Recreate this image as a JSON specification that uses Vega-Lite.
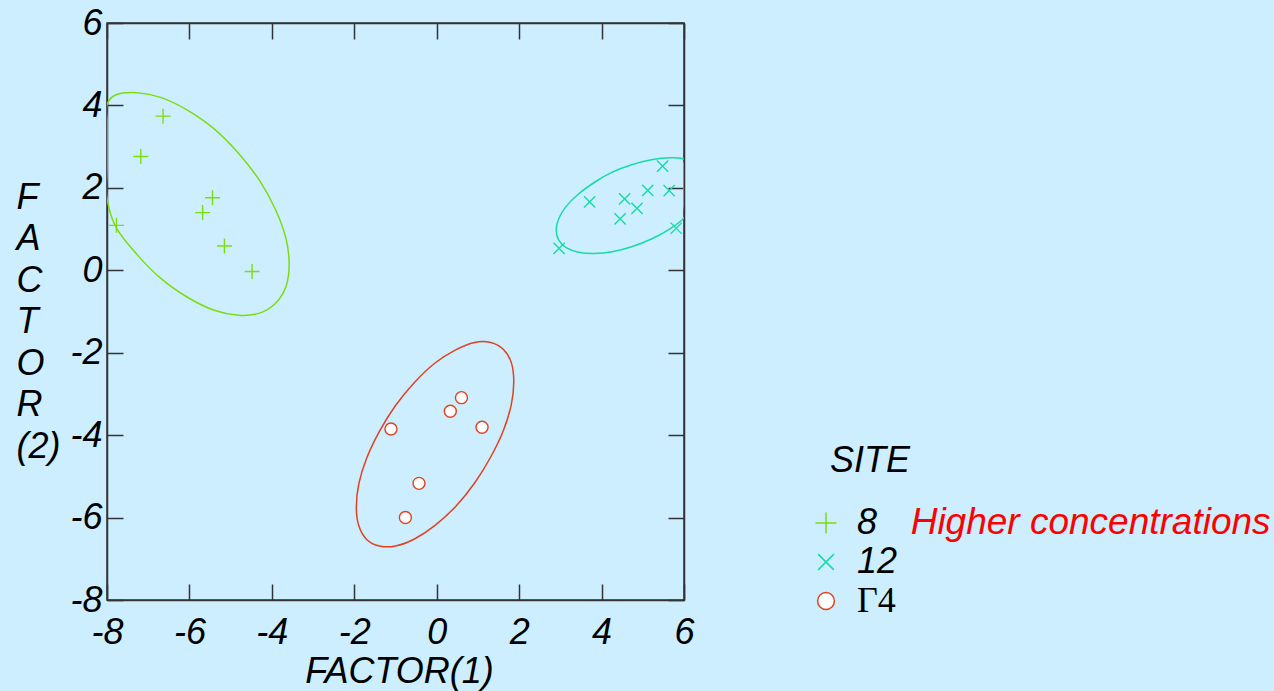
{
  "$schema": "https://vega.github.io/schema/vega-lite/v6.json",
  "width": 577,
  "height": 577,
  "autosize": {"type": "none"},
  "padding": {"left": 107, "top": 23, "right": 590, "bottom": 91},
  "background": "#cceeff",
  "config": {
    "view": {"stroke": "#333333", "strokeWidth": 1.5},
    "font": "Liberation Sans",
    "axis": {
      "labelFont": "Liberation Sans", "labelFontStyle": "italic", "labelFontSize": 36, "labelColor": "black",
      "titleFont": "Liberation Sans", "titleFontStyle": "italic", "titleFontSize": 36, "titleFontWeight": "normal", "titleColor": "black",
      "grid": false, "tickSize": -16, "tickColor": "#333333", "domainColor": "#333333", "tickWidth": 1.5, "domainWidth": 1.5,
      "labelExpr": "'' + datum.value", "labelFlush": false, "labelOverlap": false
    }
  },
  "datasets": {
    "pts": [
      {"site": "8", "x": -6.64, "y": 3.74}, {"site": "8", "x": -7.18, "y": 2.76}, {"site": "8", "x": -5.44, "y": 1.76},
      {"site": "8", "x": -5.68, "y": 1.40}, {"site": "8", "x": -7.77, "y": 1.09}, {"site": "8", "x": -5.15, "y": 0.59},
      {"site": "8", "x": -4.48, "y": -0.03},
      {"site": "12", "x": 5.48, "y": 2.53}, {"site": "12", "x": 5.12, "y": 1.94}, {"site": "12", "x": 5.64, "y": 1.93},
      {"site": "12", "x": 3.71, "y": 1.66}, {"site": "12", "x": 4.56, "y": 1.73}, {"site": "12", "x": 4.86, "y": 1.50},
      {"site": "12", "x": 4.45, "y": 1.25}, {"site": "12", "x": 5.81, "y": 1.02}, {"site": "12", "x": 2.97, "y": 0.53},
      {"site": "Γ4", "x": 0.60, "y": -3.09}, {"site": "Γ4", "x": 0.33, "y": -3.42}, {"site": "Γ4", "x": -1.11, "y": -3.85},
      {"site": "Γ4", "x": 1.10, "y": -3.81}, {"site": "Γ4", "x": -0.43, "y": -5.17}, {"site": "Γ4", "x": -0.76, "y": -6.00}
    ],
    "ell": [
      {"site": "8", "i": 0, "x": -3.58, "y": 0.14}, {"site": "8", "i": 1, "x": -3.66, "y": 0.78},
      {"site": "8", "i": 2, "x": -3.91, "y": 1.47}, {"site": "8", "i": 3, "x": -4.30, "y": 2.18},
      {"site": "8", "i": 4, "x": -4.81, "y": 2.84}, {"site": "8", "i": 5, "x": -5.40, "y": 3.43},
      {"site": "8", "i": 6, "x": -6.04, "y": 3.88}, {"site": "8", "i": 7, "x": -6.68, "y": 4.19},
      {"site": "8", "i": 8, "x": -7.27, "y": 4.31}, {"site": "8", "i": 9, "x": -7.78, "y": 4.26},
      {"site": "8", "i": 10, "x": -8, "y": 4.02}, {"site": "8", "i": 11, "x": -8, "y": 3.62},
      {"site": "8", "i": 12, "x": -8, "y": 3.08}, {"site": "8", "i": 13, "x": -8, "y": 2.44},
      {"site": "8", "i": 14, "x": -8, "y": 1.75}, {"site": "8", "i": 15, "x": -7.78, "y": 1.04},
      {"site": "8", "i": 16, "x": -7.27, "y": 0.38}, {"site": "8", "i": 17, "x": -6.68, "y": -0.21},
      {"site": "8", "i": 18, "x": -6.04, "y": -0.66}, {"site": "8", "i": 19, "x": -5.40, "y": -0.97},
      {"site": "8", "i": 20, "x": -4.81, "y": -1.09}, {"site": "8", "i": 21, "x": -4.30, "y": -1.04},
      {"site": "8", "i": 22, "x": -3.91, "y": -0.80}, {"site": "8", "i": 23, "x": -3.66, "y": -0.40},
      {"site": "12", "i": 0, "x": 6, "y": 2.16}, {"site": "12", "i": 1, "x": 6, "y": 2.40},
      {"site": "12", "i": 2, "x": 6, "y": 2.58}, {"site": "12", "i": 3, "x": 6, "y": 2.70},
      {"site": "12", "i": 4, "x": 5.65, "y": 2.73}, {"site": "12", "i": 5, "x": 5.21, "y": 2.68},
      {"site": "12", "i": 6, "x": 4.73, "y": 2.56}, {"site": "12", "i": 7, "x": 4.26, "y": 2.38},
      {"site": "12", "i": 8, "x": 3.82, "y": 2.13}, {"site": "12", "i": 9, "x": 3.44, "y": 1.85},
      {"site": "12", "i": 10, "x": 3.14, "y": 1.55}, {"site": "12", "i": 11, "x": 2.96, "y": 1.25},
      {"site": "12", "i": 12, "x": 2.90, "y": 0.97}, {"site": "12", "i": 13, "x": 2.96, "y": 0.73},
      {"site": "12", "i": 14, "x": 3.14, "y": 0.55}, {"site": "12", "i": 15, "x": 3.44, "y": 0.44},
      {"site": "12", "i": 16, "x": 3.82, "y": 0.41}, {"site": "12", "i": 17, "x": 4.26, "y": 0.45},
      {"site": "12", "i": 18, "x": 4.73, "y": 0.57}, {"site": "12", "i": 19, "x": 5.21, "y": 0.76},
      {"site": "12", "i": 20, "x": 5.65, "y": 1.00}, {"site": "12", "i": 21, "x": 6, "y": 1.28},
      {"site": "12", "i": 22, "x": 6, "y": 1.58}, {"site": "12", "i": 23, "x": 6, "y": 1.88},
      {"site": "Γ4", "i": 0, "x": 1.87, "y": -2.70}, {"site": "Γ4", "i": 1, "x": 1.81, "y": -2.24},
      {"site": "Γ4", "i": 2, "x": 1.62, "y": -1.92}, {"site": "Γ4", "i": 3, "x": 1.31, "y": -1.75},
      {"site": "Γ4", "i": 4, "x": 0.92, "y": -1.75}, {"site": "Γ4", "i": 5, "x": 0.46, "y": -1.93},
      {"site": "Γ4", "i": 6, "x": -0.04, "y": -2.25}, {"site": "Γ4", "i": 7, "x": -0.54, "y": -2.72},
      {"site": "Γ4", "i": 8, "x": -1.00, "y": -3.28}, {"site": "Γ4", "i": 9, "x": -1.39, "y": -3.91},
      {"site": "Γ4", "i": 10, "x": -1.70, "y": -4.56}, {"site": "Γ4", "i": 11, "x": -1.89, "y": -5.18},
      {"site": "Γ4", "i": 12, "x": -1.95, "y": -5.75}, {"site": "Γ4", "i": 13, "x": -1.89, "y": -6.20},
      {"site": "Γ4", "i": 14, "x": -1.70, "y": -6.53}, {"site": "Γ4", "i": 15, "x": -1.39, "y": -6.69},
      {"site": "Γ4", "i": 16, "x": -1.00, "y": -6.69}, {"site": "Γ4", "i": 17, "x": -0.54, "y": -6.52},
      {"site": "Γ4", "i": 18, "x": -0.04, "y": -6.19}, {"site": "Γ4", "i": 19, "x": 0.46, "y": -5.73},
      {"site": "Γ4", "i": 20, "x": 0.92, "y": -5.16}, {"site": "Γ4", "i": 21, "x": 1.31, "y": -4.53},
      {"site": "Γ4", "i": 22, "x": 1.62, "y": -3.88}, {"site": "Γ4", "i": 23, "x": 1.81, "y": -3.26}
    ],
    "note": [{"x": 11.5, "y": -6.12, "label": "Higher concentrations"}]
  },
  "layer": [
    {
      "data": {"name": "pts"},
      "mark": {"type": "point", "fill": "white", "size": 225, "strokeWidth": 1.4, "opacity": 1},
      "encoding": {
        "x": {"field": "x", "type": "quantitative", "scale": {"domain": [-8, 6], "nice": false, "zero": false},
              "axis": {"title": "FACTOR(1)", "values": [-8, -6, -4, -2, 0, 2, 4, 6], "labelPadding": 31,
                       "titleX": 292, "titleY": 54, "titleBaseline": "top", "titleAlign": "center"}},
        "y": {"field": "y", "type": "quantitative", "scale": {"domain": [-8, 6], "nice": false, "zero": false},
              "axis": {"title": ["F", "A", "C", "T", "O", "R", "(2)"], "values": [-8, -6, -4, -2, 0, 2, 4, 6], "labelPadding": 21,
                       "titleAngle": 0, "titleAlign": "left", "titleBaseline": "top", "titleX": -91, "titleY": 157, "titleLineHeight": 41.5}},
        "stroke": {"field": "site", "type": "nominal", "title": "SITE",
                   "scale": {"domain": ["8", "12", "Γ4"], "range": ["#7ddc10", "#14dca6", "#e2401e"]},
                   "legend": {
                     "orient": "none", "legendX": 723, "legendY": 421, "padding": 0,
                     "symbolSize": 441, "symbolStrokeWidth": 1.5, "symbolFillColor": "white", "symbolOffset": -22,
                     "labelFontSize": 36, "labelColor": "black", "labelOffset": 13, "labelFontStyle": "italic",
                     "titleFontStyle": "italic", "titleFontSize": 36, "titleFontWeight": "normal", "titleColor": "black",
                     "titlePadding": 25, "rowPadding": 3,
                     "encoding": {
                       "labels": {
                         "font": {"condition": {"test": "datum.label === 'Γ4'", "value": "Liberation Serif"}, "value": "Liberation Sans"},
                         "fontStyle": {"condition": {"test": "datum.label === 'Γ4'", "value": "normal"}, "value": "italic"}
                       }
                     }
                   }},
        "shape": {"field": "site", "type": "nominal", "title": "SITE",
                  "scale": {"domain": ["8", "12", "Γ4"],
                            "range": ["M-1,0L1,0M0,-1L0,1", "M-0.75,-0.75L0.75,0.75M-0.75,0.75L0.75,-0.75", "M-0.8,0A0.8,0.8 0 1,0 0.8,0A0.8,0.8 0 1,0 -0.8,0Z"]}}
      }
    },
    {
      "data": {"name": "ell"},
      "transform": [{"filter": "datum.site === '8'"}],
      "mark": {"type": "line", "interpolate": "cardinal-closed", "clip": true, "strokeWidth": 1.5, "stroke": "#7ddc10"},
      "encoding": {
        "x": {"field": "x", "type": "quantitative",
              "axis": {"orient": "top", "labels": false, "title": null, "values": [-8, -6, -4, -2, 0, 2, 4, 6]}},
        "y": {"field": "y", "type": "quantitative",
              "axis": {"orient": "right", "labels": false, "title": null, "values": [-8, -6, -4, -2, 0, 2, 4, 6]}},
        "order": {"field": "i", "type": "quantitative"}
      }
    },
    {
      "data": {"name": "ell"},
      "transform": [{"filter": "datum.site === '12'"}],
      "mark": {"type": "line", "interpolate": "cardinal-closed", "clip": true, "strokeWidth": 1.5, "stroke": "#14dca6"},
      "encoding": {
        "x": {"field": "x", "type": "quantitative", "axis": null},
        "y": {"field": "y", "type": "quantitative", "axis": null},
        "order": {"field": "i", "type": "quantitative"}
      }
    },
    {
      "data": {"name": "ell"},
      "transform": [{"filter": "datum.site === 'Γ4'"}],
      "mark": {"type": "line", "interpolate": "cardinal-closed", "clip": true, "strokeWidth": 1.5, "stroke": "#e2401e"},
      "encoding": {
        "x": {"field": "x", "type": "quantitative", "axis": null},
        "y": {"field": "y", "type": "quantitative", "axis": null},
        "order": {"field": "i", "type": "quantitative"}
      }
    },
    {
      "data": {"name": "note"},
      "mark": {"type": "text", "align": "left", "baseline": "middle", "font": "Liberation Sans", "fontStyle": "italic", "fontSize": 37, "color": "#ff0000"},
      "encoding": {
        "x": {"field": "x", "type": "quantitative", "axis": null},
        "y": {"field": "y", "type": "quantitative", "axis": null},
        "text": {"field": "label"}
      }
    }
  ],
  "resolve": {"axis": {"x": "independent", "y": "independent"}}
}
